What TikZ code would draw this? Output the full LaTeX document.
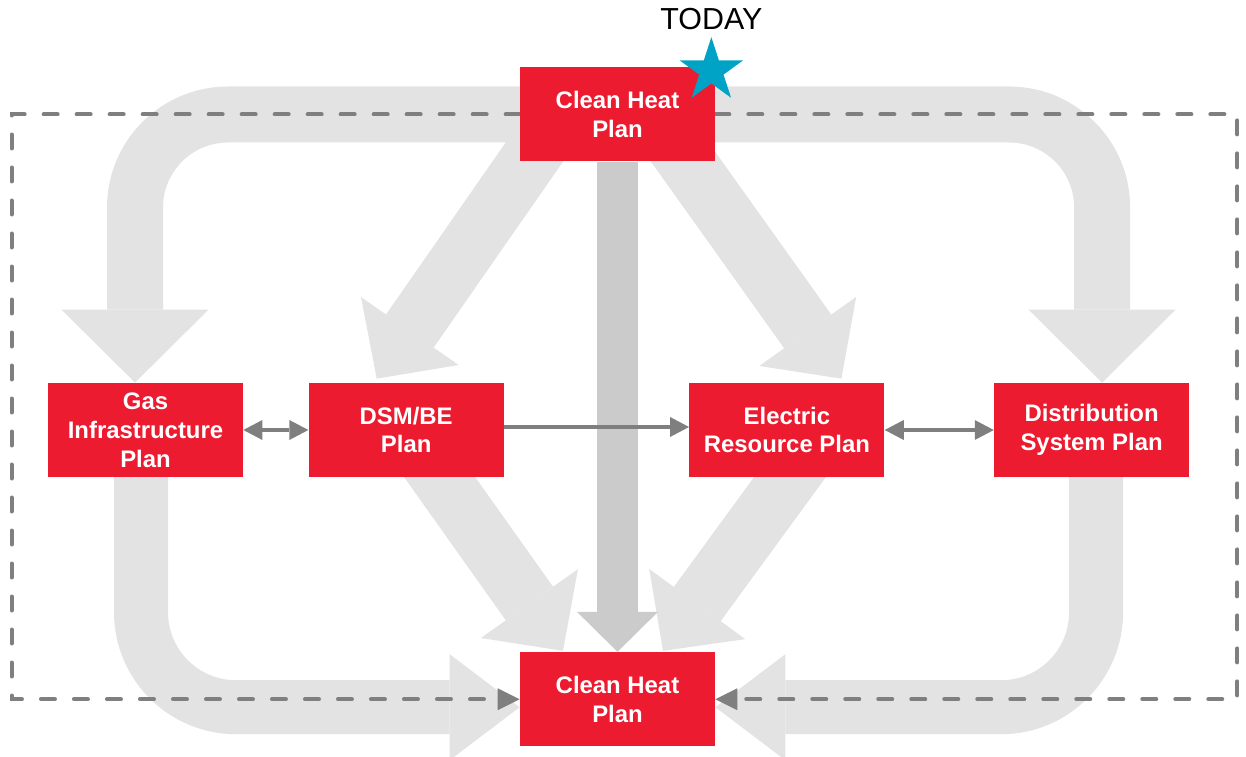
\documentclass[tikz,border=0pt]{standalone}
\usepackage{fontspec}
\setmainfont{Liberation Sans}
\usetikzlibrary{arrows.meta,positioning,shapes.geometric,backgrounds}
\definecolor{PlanRed}{HTML}{ED1B2F}
\definecolor{FlowGray}{HTML}{E3E3E3}
\definecolor{TrunkGray}{HTML}{CBCBCB}
\definecolor{LinkGray}{HTML}{7F7F7F}
\definecolor{StarBlue}{HTML}{00A3C6}

\begin{document}
\begin{tikzpicture}[
  >={Triangle[length=0.38cm,width=0.4cm,line width=0pt]},
  plan/.style={fill=PlanRed,text=white,minimum width=3.9cm,minimum height=1.88cm,inner sep=0pt,align=center,font=\bfseries\fontsize{13.6}{16.4}\selectfont},
  uturn/.style={FlowGray,line width=1.12cm,rounded corners=1.86cm,-{Triangle[length=1.46cm,width=2.94cm,line width=0pt]}},
  lturn/.style={FlowGray,line width=1.08cm,rounded corners=1.9cm,-{Triangle[length=1.4cm,width=2.12cm,line width=0pt]}},
  slant/.style={FlowGray,line width=1.16cm,-{Triangle[length=1.16cm,width=2.38cm,line width=0pt]}},
  trunk/.style={TrunkGray,line width=0.82cm,-{Triangle[length=0.8cm,width=1.62cm,line width=0pt]}},
  feedback/.style={LinkGray,line width=0.08cm,line cap=round,dash pattern=on 0.28cm off 0.38cm,-{Triangle[length=0.44cm,width=0.44cm,line width=0pt]}},
  link/.style={LinkGray,line width=0.08cm}
]
  \useasboundingbox (0,0) rectangle (24.92,15.12);

  \node[plan] (top) at (12.35,12.83) {Clean Heat\\Plan};
  \node[plan,below=9.8cm of top] (bottom) {Clean Heat\\Plan};
  \node[plan] (gas) at (2.91,6.52) {Gas\\Infrastructure\\Plan};
  \node[plan,right=1.3cm of gas] (dsm) {DSM/BE\\Plan};
  \node[plan,right=3.7cm of dsm] (elec) {Electric\\Resource Plan};
  \node[plan,right=2.18cm of elec] (dist) {Distribution\\System Plan};

  \node[star,star points=5,star point ratio=2.618,fill=StarBlue,minimum size=1.34cm,inner sep=0pt] (star) at ([shift={(-0.08,-0.07)}]top.north east) {};
  \node[above=0.12cm of star,inner sep=0pt,font=\fontsize{17.3}{20}\selectfont] (today) {TODAY};

  \draw[link,<->] (gas) -- (dsm);
  \draw[link,->] ([yshift=0.06cm]dsm.east) -- ([yshift=0.06cm]elec.west);
  \draw[link,<->] (elec) -- (dist);

  \begin{scope}[on background layer]
    \draw[uturn] (top.center) -| ([xshift=-0.21cm]gas.north);
    \draw[uturn] (top.center) -| ([xshift=0.21cm]dist.north);
    \draw[lturn] ([xshift=-0.09cm]gas.center) |- ([yshift=-0.16cm]bottom.west);
    \draw[lturn] ([xshift=0.09cm]dist.center) |- ([yshift=-0.16cm]bottom.east);
    \draw[slant] ([shift={(-1.05,0.13)}]top.center) -- ([shift={(-0.59,0.08)}]dsm.north);
    \draw[slant] ([shift={(0.63,0.11)}]top.center) -- ([shift={(1.09,0.08)}]elec.north);
    \draw[slant] (dsm.center) -- ([shift={(-1.09,0.02)}]bottom.north);
    \draw[slant] ([xshift=0.75cm]elec.center) -- ([shift={(0.91,0.02)}]bottom.north);
    \draw[trunk] (top.south) -- (bottom.north);
    \draw[feedback] (top.west) -| ([xshift=-0.72cm]gas.west) |- (bottom.west);
    \draw[feedback] (top.east) -| ([xshift=0.96cm]dist.east) |- (bottom.east);
  \end{scope}
\end{tikzpicture}
\end{document}
